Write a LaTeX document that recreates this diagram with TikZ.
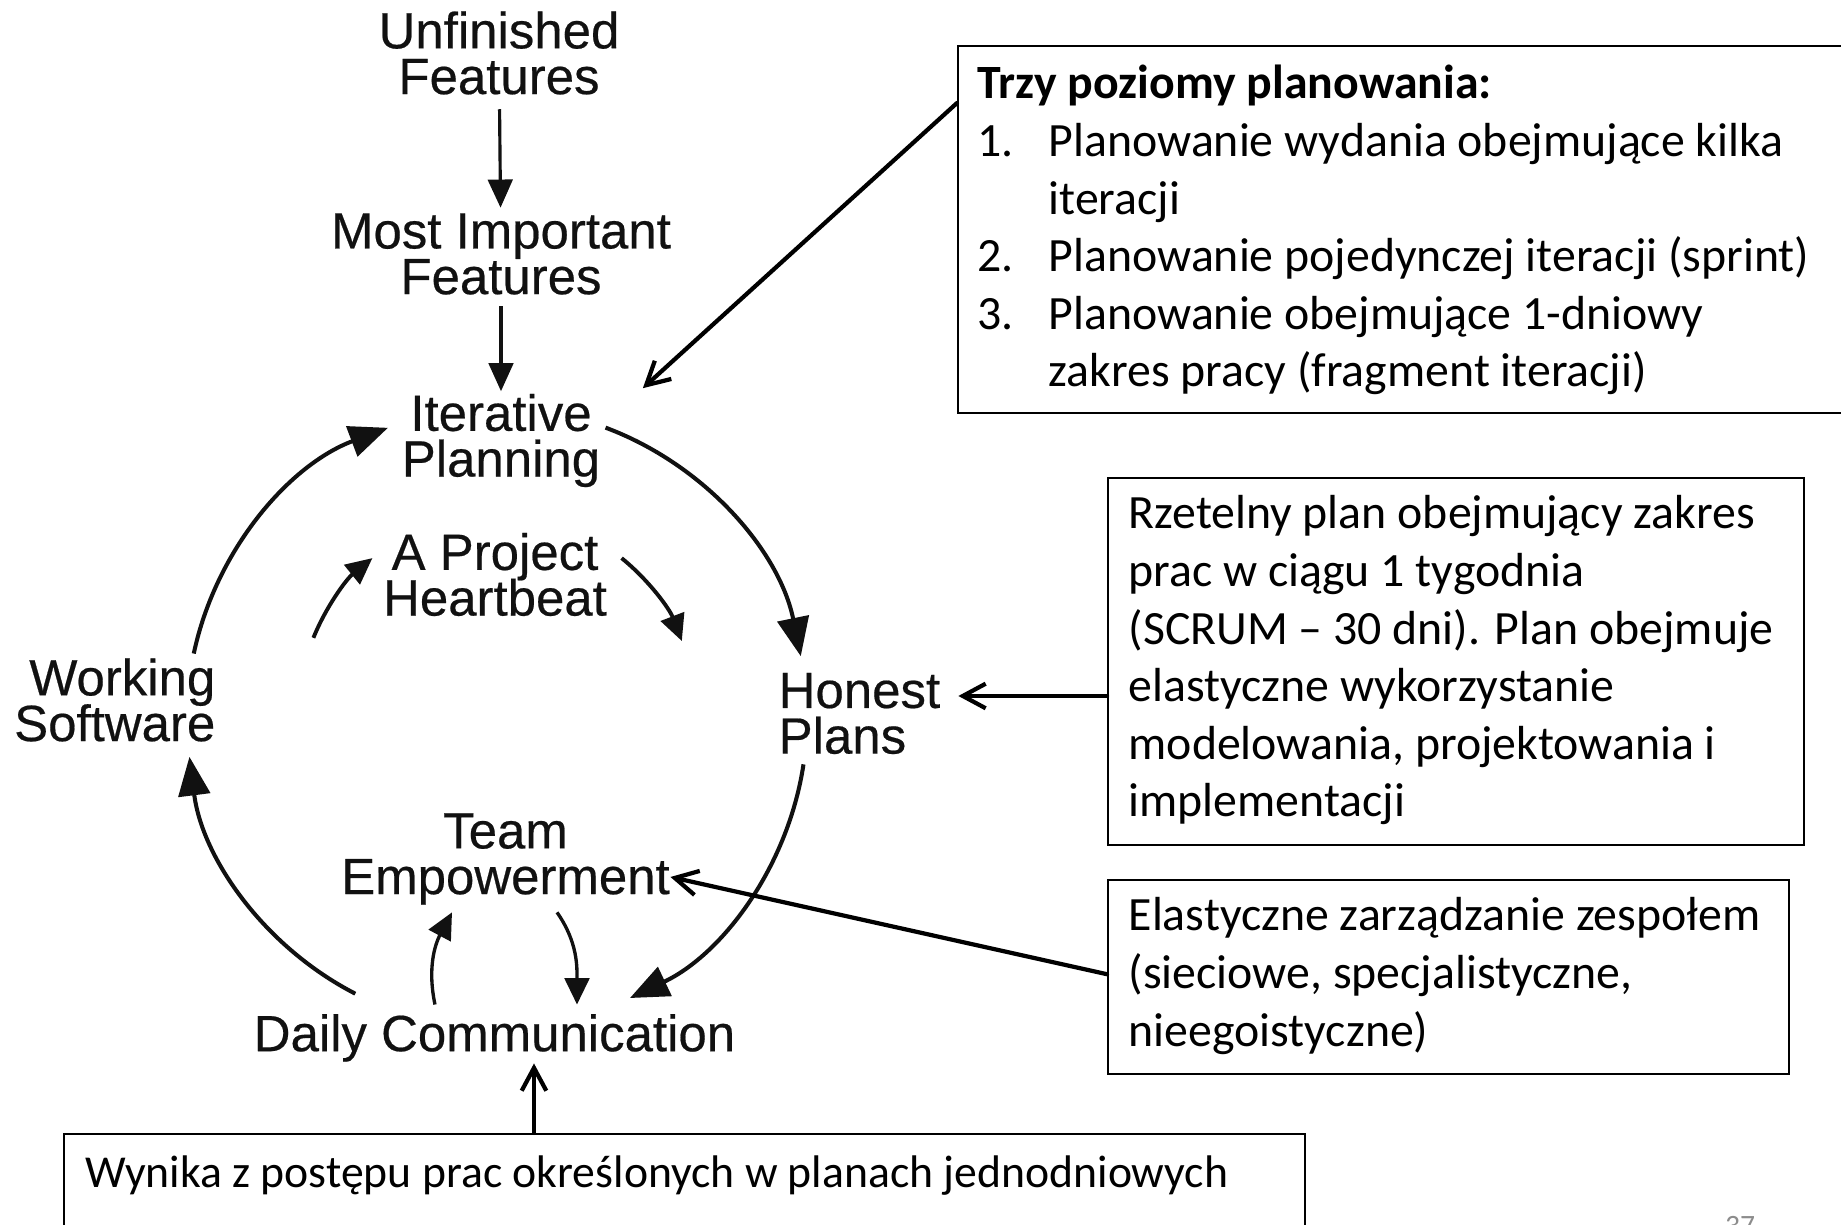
\documentclass[tikz,border=0pt]{standalone}
\usepackage{fontspec}
\setmainfont{Carlito}
\newfontfamily\diagfont[FakeBold=0.4]{Liberation Sans}
\usetikzlibrary{arrows.meta, positioning}
\definecolor{ink}{HTML}{111111}
\definecolor{pagegray}{HTML}{8C8C8C}
\lineskiplimit=-20pt

\begin{document}
\begin{tikzpicture}[
    stage/.style={font=\diagfont\fontsize{14.5}{13}\selectfont,
                  text=ink, inner sep=0pt, align=center},
    feed/.style={draw=ink, line width=0.9pt, -{Triangle[width=7pt,length=8pt]}},
    cyc/.style={draw=ink, line width=1.15pt, -{Triangle[width=9pt,length=11pt]}},
    beat/.style={draw=ink, line width=1.1pt, -{Triangle[width=7pt,length=7.5pt]}},
    notebox/.style={draw, line width=0.7pt, inner sep=0pt, anchor=north west},
    notetext/.style={font=\fontsize{13.6}{16.4}\selectfont, align=left, inner sep=0pt},
    note/.style={line width=1.2pt, line cap=round, -{Straight Barb[length=6.5pt,width=7pt]}}]
  \useasboundingbox (0,0) rectangle (18.41,-12.25);
  \clip (0,0) rectangle (18.41,-12.25);

  % the planning cycle
  \node[stage] (uf) at (4.99,-0.53) {Unfinished\\Features};
  \node[stage] (mi) at (5.01,-2.54) {Most Important\\Features};
  \node[stage] (ip) at (5.01,-4.405) {Iterative\\Planning};
  \node[stage] (hb) at (4.95,-5.745) {A Project\\Heartbeat};
  \node[stage, align=right, anchor=east] (ws) at (2.16,-7.00) {Working\\Software};
  \node[stage, align=left, anchor=west] (hp) at (7.78,-7.135) {Honest\\Plans};
  \node[stage] (te) at (5.055,-8.59) {Team\\Empowerment};
  \node[stage] (dc) at (4.945,-10.38) {Daily Communication};

  \draw[feed, shorten <=1.4mm, shorten >=0.5mm] (uf) -- (mi);
  \draw[feed, shorten <=1.1mm, shorten >=0.2mm] (mi) -- (ip);

  \coordinate (hub) at (4.97,-7.18);
  \foreach \from/\to in {69.5/11.5, -8.6/-64.6, 242.8/187.2, 168/110.6}
    \draw[cyc] ([shift={(\from:3.1)}]hub) arc[start angle=\from, end angle=\to, radius=3.1];

  \coordinate (pulse) at (4.97,-7.12);
  \foreach \from/\to in {158/129, 51/21}
    \draw[beat] ([shift={(\from:1.98)}]pulse) arc[start angle=\from, end angle=\to, radius=1.98];

  \draw[beat, line width=0.95pt] ([shift={(-0.595,0.09)}]dc.north)
    to[out=102, in=242] ([shift={(-0.535,-0.07)}]te.south);
  \draw[beat, line width=0.95pt] ([shift={(0.515,-0.07)}]te.south)
    to[out=-55, in=90] ([shift={(0.825,0.09)}]dc.north);

  % notes
  \node[notebox, minimum width=8.95cm, minimum height=3.67cm] (levels) at (9.57,-0.45) {};
  \node[notebox, minimum width=6.96cm, minimum height=3.67cm] (honestnote) at (11.07,-4.77) {};
  \node[notebox, minimum width=6.81cm, minimum height=1.94cm] (teamnote) at (11.07,-8.79) {};
  \node[notebox, minimum width=12.41cm, minimum height=1.4cm] (dailynote) at (0.63,-11.33) {};

  \node[notetext, below right=0.127cm and 0.20cm of levels.north west] (levels-text)
    {\strut\textbf{Trzy poziomy planowania:}\\
     \makebox[0.71cm][l]{1.}Planowanie wydania obejmujące kilka\\
     \hspace*{0.71cm}iteracji\\
     \makebox[0.71cm][l]{2.}Planowanie pojedynczej iteracji (sprint)\\
     \makebox[0.71cm][l]{3.}Planowanie obejmujące 1-dniowy\\
     \hspace*{0.71cm}zakres pracy (fragment iteracji)};
  \node[notetext, below right=0.107cm and 0.21cm of honestnote.north west] (honestnote-text)
    {\strut Rzetelny plan obejmujący zakres\\
     prac w ciągu 1 tygodnia\\
     (SCRUM – 30 dni). Plan obejmuje\\
     elastyczne wykorzystanie\\
     modelowania, projektowania i\\
     implementacji};
  \node[notetext, below right=0.107cm and 0.21cm of teamnote.north west] (teamnote-text)
    {\strut Elastyczne zarządzanie zespołem\\
     (sieciowe, specjalistyczne,\\
     nieegoistyczne)};
  \node[notetext, font=\fontsize{13}{15.7}\selectfont,
        below right=0.15cm and 0.22cm of dailynote.north west] (dailynote-text)
    {\strut Wynika z postępu prac określonych w planach jednodniowych};

  \coordinate (iptip) at ([shift={(4.2mm,0.5mm)}]ip.north east);
  \coordinate (hptip) at ([shift={(1.75mm,1.75mm)}]hp.east);
  \coordinate (tetip) at ([shift={(0mm,-1.8mm)}]te.east);
  \coordinate (dctip) at ([shift={(3.95mm,-0.1mm)}]dc.south);
  \draw[note] ([yshift=-5.8mm]levels.north west) -- (iptip);
  \draw[note] (honestnote.west |- hptip) -- (hptip);
  \draw[note] ([yshift=0.3mm]teamnote.west) -- (tetip);
  \draw[note] (dctip |- dailynote.north) -- (dctip);

  \node[font=\fontsize{8.4}{10}\selectfont, text=pagegray, anchor=base, inner sep=0pt]
    (slide) at (17.40,-12.36) {37};
\end{tikzpicture}
\end{document}
